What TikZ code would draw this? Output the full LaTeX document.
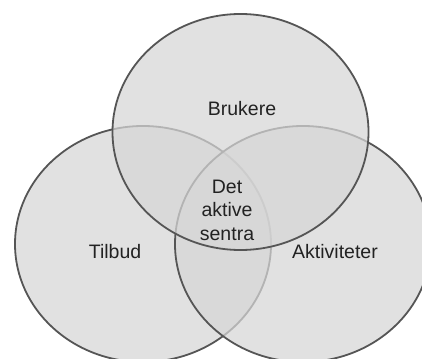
\documentclass[tikz,border=0pt]{standalone}
\usepackage{fontspec}
\setmainfont{Liberation Sans}
\definecolor{ringfill}{RGB}{214,214,214}
\definecolor{ringline}{RGB}{85,85,85}
\definecolor{labeltext}{RGB}{34,34,34}

\begin{document}
\begin{tikzpicture}[x=1pt, y=-1pt,
	ring/.style={draw=ringline, line width=1.8pt, fill=ringfill, fill opacity=0.73},
	ringlabel/.style={text=labeltext, font=\fontsize{19.5}{23.5}\selectfont, align=center}]

	\useasboundingbox (0,0) rectangle (422,358);
	\clip (0,0) rectangle (422,358);

	\draw [ring] (143,244) ellipse [x radius=128, y radius=118];
	\draw [ring] (303,244) ellipse [x radius=128, y radius=118];
	\draw [ring] (240.5,132) ellipse [x radius=128, y radius=118];

	\node [ringlabel] (brukere) at (242,109) {Brukere};
	\node [ringlabel] (tilbud) at (115,252) {Tilbud};
	\node [ringlabel] (aktiviteter) at (335,252) {Aktiviteter};
	\node [ringlabel] (sentra) at (227,210) {Det\\aktive\\sentra};

\end{tikzpicture}
\end{document}
